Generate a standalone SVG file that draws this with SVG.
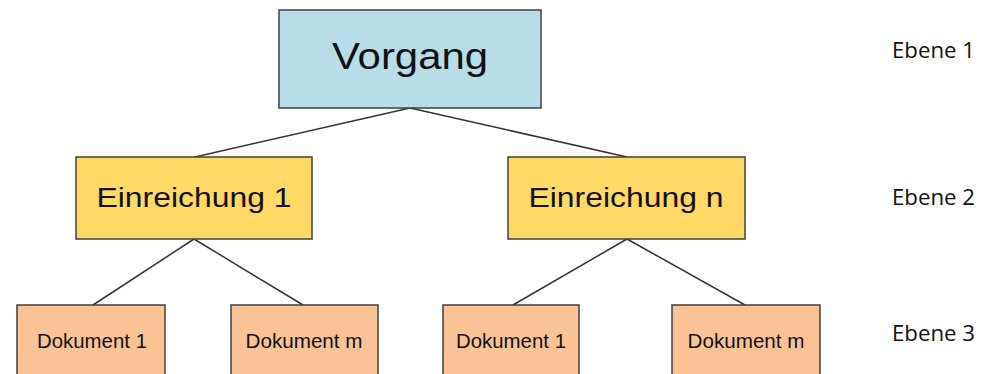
<svg xmlns="http://www.w3.org/2000/svg" width="995" height="374" viewBox="0 0 995 374">
<style>
.box{stroke:#404040;stroke-width:1.5}
.l1{fill:#B7DEE8}
.l2{fill:#FFD966}
.l3{fill:#FAC396}
.t{font-family:"Liberation Sans",Arial,sans-serif;fill:#111;text-anchor:middle}
.e{font-family:"Open Sans","Liberation Sans",sans-serif;fill:#111;font-size:21px}
.c{stroke:#333;stroke-width:1.5;fill:none}
</style>
<rect width="995" height="374" fill="#fff"/>
<g id="connectors">
<line class="c" x1="410" y1="108" x2="195" y2="157"/>
<line class="c" x1="410" y1="108" x2="627" y2="157"/>
<line class="c" x1="194" y1="239" x2="93" y2="305"/>
<line class="c" x1="194" y1="239" x2="303" y2="305"/>
<line class="c" x1="627" y1="239" x2="513" y2="305"/>
<line class="c" x1="627" y1="239" x2="745" y2="305"/>
</g>
<g id="vorgang">
<rect class="box l1" x="279" y="10" width="262" height="98"/>
<text class="t" x="410" y="69" font-size="36" textLength="156" lengthAdjust="spacingAndGlyphs">Vorgang</text>
</g>
<g id="einreichung1">
<rect class="box l2" x="76" y="157" width="236" height="82"/>
<text class="t" x="194" y="207" font-size="28" textLength="195" lengthAdjust="spacingAndGlyphs">Einreichung 1</text>
</g>
<g id="einreichungn">
<rect class="box l2" x="508" y="157" width="237" height="82"/>
<text class="t" x="626" y="207" font-size="28" textLength="195" lengthAdjust="spacingAndGlyphs">Einreichung n</text>
</g>
<g id="dok1a">
<rect class="box l3" x="17" y="305" width="148" height="80"/>
<text class="t" x="92" y="348" font-size="20" textLength="110" lengthAdjust="spacingAndGlyphs">Dokument 1</text>
</g>
<g id="dokma">
<rect class="box l3" x="231" y="305" width="147" height="80"/>
<text class="t" x="304" y="348" font-size="20" textLength="117" lengthAdjust="spacingAndGlyphs">Dokument m</text>
</g>
<g id="dok1b">
<rect class="box l3" x="443" y="305" width="136" height="80"/>
<text class="t" x="511" y="348" font-size="20" textLength="110" lengthAdjust="spacingAndGlyphs">Dokument 1</text>
</g>
<g id="dokmb">
<rect class="box l3" x="672" y="305" width="148" height="80"/>
<text class="t" x="746" y="348" font-size="20" textLength="117" lengthAdjust="spacingAndGlyphs">Dokument m</text>
</g>
<g id="ebenen">
<text class="e" x="892" y="58" textLength="83" lengthAdjust="spacingAndGlyphs">Ebene 1</text>
<text class="e" x="892" y="205" textLength="83" lengthAdjust="spacingAndGlyphs">Ebene 2</text>
<text class="e" x="892" y="341" textLength="83" lengthAdjust="spacingAndGlyphs">Ebene 3</text>
</g>
</svg>
